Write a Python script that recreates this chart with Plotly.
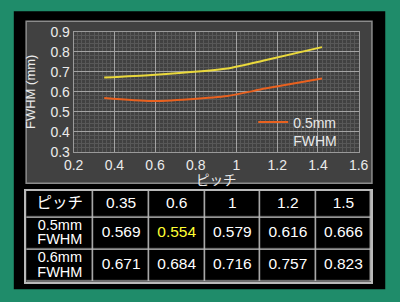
import plotly.graph_objects as go

# ---- data ----
pitch_labels = ["0.35", "0.6", "1", "1.2", "1.5"]
plot_x = [0.35, 0.583, 0.955, 1.14, 1.42]          # positions as drawn in the chart
fwhm_05 = [0.569, 0.554, 0.579, 0.616, 0.666]
fwhm_06 = [0.671, 0.684, 0.716, 0.757, 0.823]
row_labels = [["ピッチ"], ["0.5mm", "FWHM"], ["0.6mm", "FWHM"]]
legend_name = "0.5mm<br>FWHM"
highlight = (1, 2)   # row, col of yellow value

# ---- layout constants ----
W, H = 400, 302
FONT = "Liberation Sans, Arial, Noto Sans CJK JP, sans-serif"
col_w = [71, 58, 59, 58, 59, 58]
row_h = [28, 34, 34]
line_gap = 15.5
GREEN = "#1f8c6a"
TABLE_LINE = "#b9b9b9"

def px_x(p): return p / W
def px_y(p): return 1 - p / H

fig = go.Figure()

# chart lines
fig.add_trace(go.Scatter(x=plot_x, y=fwhm_06, mode="lines", showlegend=False,
                         line=dict(color="#e9d83c", width=2, shape="spline", smoothing=0.6),
                         hoverinfo="skip"))
fig.add_trace(go.Scatter(x=plot_x, y=fwhm_05, mode="lines", name=legend_name,
                         line=dict(color="#e8611f", width=2, shape="spline", smoothing=0.6),
                         hoverinfo="skip"))

# table grid: light heatmap under a black heatmap with gaps
x_edges = [0]
for w in col_w:
    x_edges.append(x_edges[-1] + w)
y_edges = [0]
for h in row_h:
    y_edges.append(y_edges[-1] + h)
z = [[0] * len(col_w) for _ in row_h]
fig.add_trace(go.Heatmap(x=x_edges, y=y_edges, z=z, xaxis="x2", yaxis="y2",
                         colorscale=[[0, TABLE_LINE], [1, TABLE_LINE]], showscale=False,
                         hoverinfo="skip"))
fig.add_trace(go.Heatmap(x=x_edges, y=y_edges, z=z, xaxis="x2", yaxis="y2",
                         colorscale=[[0, "black"], [1, "black"]], showscale=False,
                         xgap=1.5, ygap=1.5, hoverinfo="skip"))

# table text
value_rows = [pitch_labels,
              [f"{v:.3f}" for v in fwhm_05],
              [f"{v:.3f}" for v in fwhm_06]]
tx, ty, tt, tc, ts = [], [], [], [], []
for r in range(len(row_h)):
    cy = (y_edges[r] + y_edges[r + 1]) / 2
    lines = row_labels[r]
    n = len(lines)
    for i, ln in enumerate(lines):
        tx.append((x_edges[0] + x_edges[1]) / 2)
        ty.append(cy + (i - (n - 1) / 2) * line_gap)
        tt.append(ln)
        tc.append("#ffffff")
        ts.append(15.5 if n == 1 else 14.5)
    for c, txt in enumerate(value_rows[r], start=1):
        tx.append((x_edges[c] + x_edges[c + 1]) / 2)
        ty.append(cy)
        tt.append(txt)
        tc.append("#ffff33" if (r, c) == highlight else "#ffffff")
        ts.append(15.5)
fig.add_trace(go.Scatter(x=tx, y=ty, text=tt, mode="text", xaxis="x2", yaxis="y2",
                         textfont=dict(color=tc, size=ts, family=FONT),
                         showlegend=False, hoverinfo="skip"))

grid_major = "#a3a3a3"
grid_minor = "#585858"
tick_font = dict(color="#ebebeb", size=14, family=FONT)

shapes = [
    dict(type="rect", xref="paper", yref="paper",
         x0=px_x(4), x1=px_x(395), y0=px_y(297), y1=px_y(3.5),
         fillcolor="black", line=dict(width=0), layer="below"),
    dict(type="rect", xref="paper", yref="paper",
         x0=px_x(17), x1=px_x(381), y0=px_y(185), y1=px_y(14),
         fillcolor="#414141", line=dict(color="#8c8c8c", width=1.5), layer="below"),
]

fig.update_layout(
    width=W, height=H,
    margin=dict(l=0, r=0, t=0, b=0),
    paper_bgcolor=GREEN,
    plot_bgcolor="rgba(0,0,0,0)",
    showlegend=True,
    legend=dict(x=px_x(256), y=px_y(104), xanchor="left", yanchor="top",
                bgcolor="rgba(0,0,0,0)", font=dict(color="#e8e8e8", size=14, family=FONT),
                valign="top", itemwidth=30),
    xaxis=dict(domain=[px_x(67), px_x(367)], range=[0.2, 1.6], dtick=0.2,
               showgrid=True, gridcolor=grid_major, gridwidth=1,
               minor=dict(dtick=0.02, showgrid=True, gridcolor=grid_minor, gridwidth=1),
               showline=True, linecolor="#9a9a9a", linewidth=1, mirror=True,
               zeroline=False, tickfont=tick_font, ticks="",
               title=dict(text="ピッチ", font=dict(color="#ebebeb", size=13.5, family=FONT),
                          standoff=0),
               anchor="y"),
    yaxis=dict(domain=[px_y(152), px_y(25)], range=[0.3, 0.9], dtick=0.1,
               showgrid=True, gridcolor=grid_major, gridwidth=1,
               minor=dict(dtick=0.02, showgrid=True, gridcolor=grid_minor, gridwidth=1),
               showline=True, linecolor="#9a9a9a", linewidth=1, mirror=True,
               zeroline=False, tickfont=tick_font, ticks="",
               title=dict(text="FWHM (mm)", font=dict(color="#ebebeb", size=13, family=FONT),
                          standoff=11),
               anchor="x"),
    xaxis2=dict(domain=[px_x(17), px_x(380)], range=[0, x_edges[-1]],
                showgrid=False, zeroline=False, showticklabels=False,
                showline=True, linecolor=TABLE_LINE, linewidth=1.5, mirror=True,
                anchor="y2", fixedrange=True),
    yaxis2=dict(domain=[px_y(289), px_y(193)], range=[y_edges[-1], 0],
                showgrid=False, zeroline=False, showticklabels=False,
                showline=True, linecolor=TABLE_LINE, linewidth=1.5, mirror=True,
                anchor="x2", fixedrange=True),
    shapes=shapes,
)

fig.write_html("out.html")
